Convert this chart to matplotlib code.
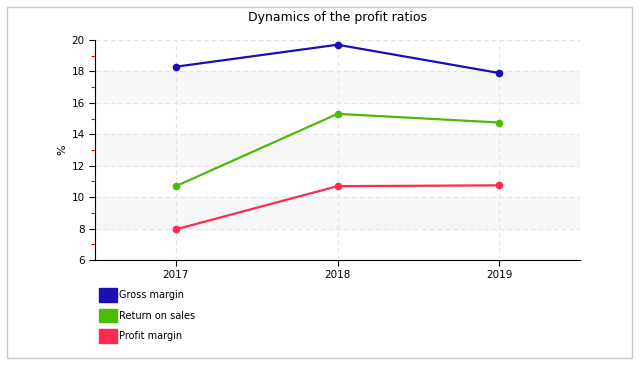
import numpy as np
import matplotlib.pyplot as plt
from matplotlib.patches import Patch, Rectangle

years = ["2017", "2018", "2019"]
gross_margin = [18.3, 19.7, 17.9]
return_on_sales = [10.7, 15.3, 14.75]
profit_margin = [7.95, 10.7, 10.75]

series = [
    ("Gross margin", gross_margin, "#1a0fb4"),
    ("Return on sales", return_on_sales, "#4cbb07"),
    ("Profit margin", profit_margin, "#ff2a4f"),
]

fig = plt.figure(figsize=(6.4, 3.65), dpi=100)
fig.patches.append(Rectangle((7 / 640, 7 / 365), 625 / 640, 351 / 365,
                             transform=fig.transFigure, fill=False,
                             edgecolor="#c8c8c8", linewidth=1))

ax = fig.add_axes([95 / 640, 105 / 365, 485 / 640, 220 / 365])
x = np.arange(len(years))

# alternate bands
for lo in [8, 12, 16]:
    ax.axhspan(lo, lo + 2, color="#f7f7f7", zorder=0)

for label, vals, col in series:
    ax.plot(x, vals, color=col, lw=1.6, marker="o", ms=4.5, zorder=3)

ax.set_xlim(-0.5, 2.5)
ax.set_ylim(6, 20)
ax.set_xticks(x)
ax.set_xticklabels(years)
ax.set_yticks(np.arange(6, 21, 2))
ax.set_yticks(np.arange(7, 20, 2), minor=True)
ax.tick_params(axis="both", labelsize=7.5, length=4, width=0.8)
ax.tick_params(axis="y", which="minor", length=3, color="red", width=0.8)
ax.grid(True, which="major", ls=(0, (4, 3)), color="#e3e3e3", lw=0.8)
ax.set_axisbelow(True)
for s in ["top", "right"]:
    ax.spines[s].set_visible(False)
ax.set_ylabel("%", fontsize=8, labelpad=3)
ax.set_title("Dynamics of the profit ratios", fontsize=9, pad=14)

handles = [Patch(facecolor=c, edgecolor=c, label=l) for l, v, c in series]
fig.legend(handles=handles, loc="upper left", bbox_to_anchor=(99 / 640, 1 - 288 / 365),
           frameon=False, fontsize=7, handlelength=1.8, handleheight=1.8,
           handletextpad=0.3, labelspacing=0.7, borderaxespad=0, borderpad=0)

fig.savefig("out.png", dpi=100)
